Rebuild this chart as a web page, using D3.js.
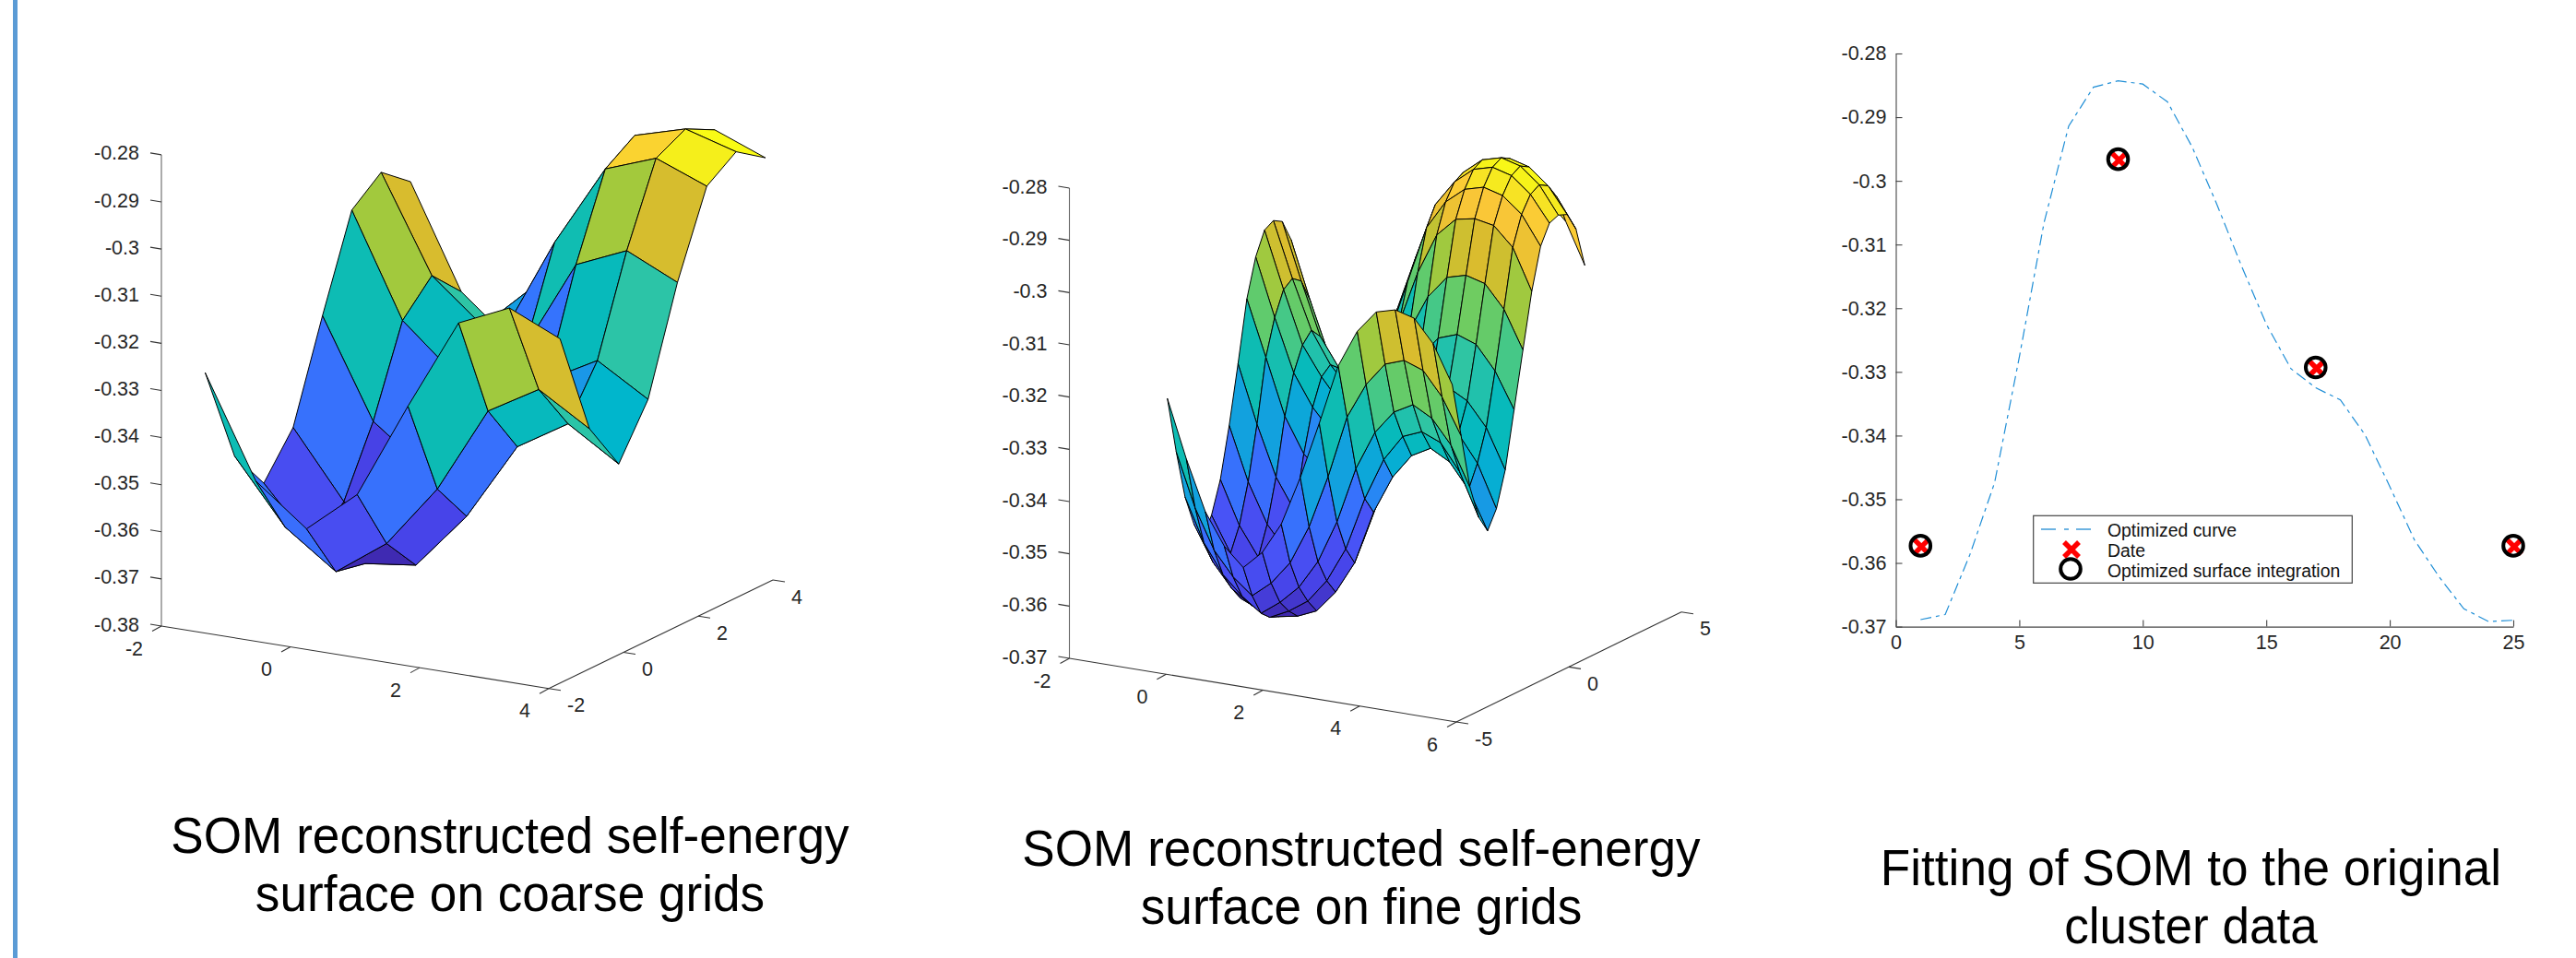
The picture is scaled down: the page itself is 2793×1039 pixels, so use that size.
<!DOCTYPE html>
<html>
<head>
<meta charset="utf-8">
<style>
    html, body { margin: 0; padding: 0; background: #fff; }
    text { font-family: "Liberation Sans", Arial, sans-serif; }
    .tick-label { font-size: 21.5px; fill: #262626; }
    .caption { font-size: 55px; fill: #000; text-anchor: middle; }
    .legend-label { font-size: 19.4px; fill: #111; }
</style>
<script src="https://d3js.org/d3.v7.min.js"></script>
</head>
<body>
<svg id="fig" width="2793" height="1039"></svg>
<script>
// coarse surface, 8x8 nodes (rows = x, columns = y)
const coarseK = [-1.571, -0.785, 0, 0.785, 1.571, 2.356, 3.142, 3.927];
const coarseZ = [
    [-0.3269, -0.3476, -0.3564, -0.3476, -0.3269, -0.3075, -0.3025, -0.3075],
    [-0.3482, -0.3610, -0.3683, -0.3616, -0.3476, -0.3292, -0.3227, -0.3291],
    [-0.3566, -0.3687, -0.3700, -0.3682, -0.3557, -0.3386, -0.3316, -0.3380],
    [-0.3476, -0.3610, -0.3686, -0.3610, -0.3467, -0.3281, -0.3216, -0.3277],
    [-0.3271, -0.3477, -0.3565, -0.3472, -0.3265, -0.3074, -0.3026, -0.3078],
    [-0.3077, -0.3294, -0.3400, -0.3289, -0.3074, -0.2901, -0.2860, -0.2901],
    [-0.3028, -0.3231, -0.3334, -0.3230, -0.3027, -0.2861, -0.2829, -0.2861],
    [-0.3076, -0.3297, -0.3402, -0.3295, -0.3077, -0.2903, -0.2860, -0.2903]
];

// fine surface, 16x16 nodes
const fineK = [-1.571, -1.178, -0.785, -0.393, 0, 0.393, 0.785, 1.178, 1.571, 1.963, 2.356, 2.749, 3.142, 3.534, 3.927, 4.320];
const fineZ = [
    [-0.3268, -0.3378, -0.3473, -0.3533, -0.3568, -0.3533, -0.3473, -0.3378, -0.3268, -0.3152, -0.3080, -0.3037, -0.3027, -0.3037, -0.3080, -0.3152],
    [-0.3378, -0.3480, -0.3555, -0.3600, -0.3630, -0.3600, -0.3555, -0.3480, -0.3378, -0.3258, -0.3190, -0.3145, -0.3132, -0.3145, -0.3190, -0.3258],
    [-0.3473, -0.3555, -0.3610, -0.3645, -0.3672, -0.3645, -0.3610, -0.3555, -0.3473, -0.3365, -0.3290, -0.3245, -0.3225, -0.3245, -0.3290, -0.3365],
    [-0.3533, -0.3600, -0.3645, -0.3670, -0.3688, -0.3670, -0.3645, -0.3600, -0.3533, -0.3431, -0.3350, -0.3300, -0.3285, -0.3300, -0.3350, -0.3431],
    [-0.3568, -0.3630, -0.3672, -0.3688, -0.3695, -0.3688, -0.3672, -0.3630, -0.3568, -0.3465, -0.3392, -0.3345, -0.3325, -0.3345, -0.3392, -0.3465],
    [-0.3533, -0.3600, -0.3645, -0.3670, -0.3688, -0.3670, -0.3645, -0.3600, -0.3533, -0.3431, -0.3350, -0.3300, -0.3285, -0.3300, -0.3350, -0.3431],
    [-0.3473, -0.3555, -0.3610, -0.3645, -0.3672, -0.3645, -0.3610, -0.3555, -0.3473, -0.3365, -0.3290, -0.3245, -0.3225, -0.3245, -0.3290, -0.3365],
    [-0.3378, -0.3480, -0.3555, -0.3600, -0.3630, -0.3600, -0.3555, -0.3480, -0.3378, -0.3258, -0.3190, -0.3145, -0.3132, -0.3145, -0.3190, -0.3258],
    [-0.3268, -0.3378, -0.3473, -0.3533, -0.3568, -0.3533, -0.3473, -0.3378, -0.3268, -0.3152, -0.3080, -0.3037, -0.3027, -0.3037, -0.3080, -0.3152],
    [-0.3152, -0.3258, -0.3365, -0.3431, -0.3465, -0.3431, -0.3365, -0.3258, -0.3152, -0.3048, -0.2970, -0.2934, -0.2927, -0.2934, -0.2970, -0.3048],
    [-0.3080, -0.3190, -0.3290, -0.3350, -0.3392, -0.3350, -0.3290, -0.3190, -0.3080, -0.2970, -0.2915, -0.2885, -0.2875, -0.2885, -0.2915, -0.2970],
    [-0.3037, -0.3145, -0.3245, -0.3300, -0.3345, -0.3300, -0.3245, -0.3145, -0.3037, -0.2934, -0.2885, -0.2855, -0.2845, -0.2855, -0.2885, -0.2934],
    [-0.3027, -0.3132, -0.3225, -0.3285, -0.3325, -0.3285, -0.3225, -0.3132, -0.3027, -0.2927, -0.2875, -0.2845, -0.2835, -0.2845, -0.2875, -0.2927],
    [-0.3037, -0.3145, -0.3245, -0.3300, -0.3345, -0.3300, -0.3245, -0.3145, -0.3037, -0.2934, -0.2885, -0.2855, -0.2845, -0.2855, -0.2885, -0.2934],
    [-0.3080, -0.3190, -0.3290, -0.3350, -0.3392, -0.3350, -0.3290, -0.3190, -0.3080, -0.2970, -0.2915, -0.2885, -0.2875, -0.2885, -0.2915, -0.2970],
    [-0.3152, -0.3258, -0.3365, -0.3431, -0.3465, -0.3431, -0.3365, -0.3258, -0.3152, -0.3048, -0.2970, -0.2934, -0.2927, -0.2934, -0.2970, -0.3048]
];

// right panel
const curveX = d3.range(1, 26);
const curveY = [-0.3689, -0.3681, -0.3587, -0.3474, -0.3277, -0.3066, -0.2914, -0.2853, -0.2843, -0.2848, -0.2876, -0.2947, -0.3037, -0.3134, -0.3225, -0.3295, -0.3325, -0.3344, -0.3399, -0.3480, -0.3564, -0.3622, -0.3672, -0.3692, -0.3690];
const sampleX = [1, 9, 17, 25];
const sampleY = [-0.3573, -0.2966, -0.3293, -0.3573];
const legendLabels = ["Optimized curve", "Date", "Optimized surface integration"];

const zTicksCoarse = [-0.28, -0.29, -0.3, -0.31, -0.32, -0.33, -0.34, -0.35, -0.36, -0.37, -0.38];
const zTicksFine = [-0.28, -0.29, -0.3, -0.31, -0.32, -0.33, -0.34, -0.35, -0.36, -0.37];
const xTicksCoarse = [-2, 0, 2, 4];
const yTicksCoarse = [-2, 0, 2, 4];
const xTicksFine = [-2, 0, 2, 4, 6];
const yTicksFine = [-5, 0, 5];
const fitXTicks = [0, 5, 10, 15, 20, 25];
const fitYTicks = [-0.28, -0.29, -0.3, -0.31, -0.32, -0.33, -0.34, -0.35, -0.36, -0.37];

const captions = [
    {cx: 553, y: 925, lines: ["SOM reconstructed self-energy", "surface on coarse grids"]},
    {cx: 1476, y: 939, lines: ["SOM reconstructed self-energy", "surface on fine grids"]},
    {cx: 2375.5, y: 960, lines: ["Fitting of SOM to the original", "cluster data"]}
];

const parula = d3.scaleLinear()
    .domain([0, 0.1, 0.2, 0.28, 0.42, 0.49, 0.54, 0.6, 0.66, 0.73, 0.78, 0.9, 0.96, 1])
    .range(["#3e26a8", "#4743e8", "#4855f8", "#307cfe", "#00b6cc", "#0abbb5", "#2cc4a7", "#4cc97e", "#72cc5e", "#acc836", "#ddbb2d", "#fcc838", "#f5ee1c", "#f9fb15"]);

const svg = d3.select("#fig");

svg.append("rect").attr("x", 14).attr("y", 0).attr("width", 5).attr("height", 1039).attr("fill", "#5b9bd5");

function surfacePanel(opt) {
    const g = svg.append("g");
    const {L, B, R, zTop, xDomain, yDomain, zDomain} = opt;
    // floor position = sum of the two horizontal scales, height from z scale
    const xToX = d3.scaleLinear().domain(xDomain).range([0, B[0] - L[0]]);
    const xToY = d3.scaleLinear().domain(xDomain).range([0, B[1] - L[1]]);
    const yToX = d3.scaleLinear().domain(yDomain).range([0, R[0] - B[0]]);
    const yToY = d3.scaleLinear().domain(yDomain).range([0, R[1] - B[1]]);
    const zToY = d3.scaleLinear().domain(zDomain).range([0, zTop - L[1]]);
    const project = (x, y, z) => [
        L[0] + xToX(x) + yToX(y),
        L[1] + xToY(x) + yToY(y) + zToY(z)
    ];

    // axes
    const axisLine = (a, b, col) => g.append("line")
        .attr("x1", a[0]).attr("y1", a[1]).attr("x2", b[0]).attr("y2", b[1])
        .attr("stroke", col).attr("stroke-width", 1.1);
    axisLine(L, [L[0], zTop], "#666");
    axisLine(L, B, "#333");
    axisLine(B, R, "#333");

    opt.zTicks.forEach(t => {
        const p = project(xDomain[0], yDomain[0], t);
        axisLine(p, [p[0] - 12, p[1] - 2], "#333");
        g.append("text").attr("class", "tick-label").attr("text-anchor", "end")
            .attr("x", p[0] - 24).attr("y", p[1] - 2).attr("dy", "0.35em").text(String(t));
    });
    opt.xTicks.forEach(t => {
        const p = project(t, yDomain[0], zDomain[0]);
        axisLine(p, [p[0] - 10, p[1] + 5.5], "#333");
        g.append("text").attr("class", "tick-label").attr("text-anchor", "end")
            .attr("x", p[0] - 20).attr("y", p[1] + 24).attr("dy", "0.35em").text(String(t));
    });
    opt.yTicks.forEach(t => {
        const p = project(xDomain[1], t, zDomain[0]);
        axisLine(p, [p[0] + 13, p[1] + 2], "#333");
        g.append("text").attr("class", "tick-label").attr("text-anchor", "start")
            .attr("x", p[0] + 20).attr("y", p[1] + 18).attr("dy", "0.35em").text(String(t));
    });

    // faces, far ones first. colour comes from the first corner of the face
    const {k, z} = opt;
    const zMin = d3.min(z, r => d3.min(r));
    const zMax = d3.max(z, r => d3.max(r));
    const color = d3.scaleLinear().domain([zMin, zMax]).range([0, 1]);
    const faces = [];
    for (let i = 0; i < k.length - 1; i++) {
        for (let j = k.length - 2; j >= 0; j--) {
            faces.push({
                pts: [
                    project(k[i], k[j], z[i][j]),
                    project(k[i + 1], k[j], z[i + 1][j]),
                    project(k[i + 1], k[j + 1], z[i + 1][j + 1]),
                    project(k[i], k[j + 1], z[i][j + 1])
                ],
                c: parula(color(z[i][j]))
            });
        }
    }
    const line = d3.line().curve(d3.curveLinearClosed);
    g.selectAll("path.face").data(faces).join("path")
        .attr("class", "face")
        .attr("d", d => line(d.pts))
        .attr("fill", d => d.c)
        .attr("stroke", "#000")
        .attr("stroke-width", 1)
        .attr("stroke-linejoin", "round");
}

surfacePanel({
    L: [175, 679], B: [595, 746.7], R: [838, 629], zTop: 167.9,
    xDomain: [-2, 4], yDomain: [-2, 4], zDomain: [-0.38, -0.28],
    zTicks: zTicksCoarse, xTicks: xTicksCoarse, yTicks: yTicksCoarse,
    k: coarseK, z: coarseZ
});

surfacePanel({
    L: [1159.5, 714], B: [1579, 783], R: [1823, 663.7], zTop: 204,
    xDomain: [-2, 6], yDomain: [-5, 5], zDomain: [-0.37, -0.28],
    zTicks: zTicksFine, xTicks: xTicksFine, yTicks: yTicksFine,
    k: fineK, z: fineZ
});

// right panel, plain 2d
const fx = d3.scaleLinear().domain([0, 25]).range([2055.5, 2725]);
const fy = d3.scaleLinear().domain([-0.37, -0.28]).range([679.6, 58]);
const fit = svg.append("g");

const xAxis = d3.axisBottom(fx).tickValues(fitXTicks).tickFormat(String).tickSizeInner(-7).tickSizeOuter(0).tickPadding(9);
const yAxis = d3.axisLeft(fy).tickValues(fitYTicks).tickFormat(String).tickSizeInner(-7).tickSizeOuter(0).tickPadding(10);
const gx = fit.append("g").attr("transform", "translate(0,679.6)").call(xAxis);
const gy = fit.append("g").attr("transform", "translate(2055.5,0)").call(yAxis);
[gx, gy].forEach(a => {
    a.selectAll("path,line").attr("stroke", "#444").attr("stroke-width", 1.1);
    a.selectAll("text").attr("class", "tick-label").attr("font-size", null).attr("font-family", null);
});

const dashed = "12 5 4 5";
const curve = d3.line().x((d, i) => fx(curveX[i])).y(d => fy(d));
fit.append("path").attr("d", curve(curveY)).attr("fill", "none")
    .attr("stroke", "#1f8ed6").attr("stroke-width", 1.2).attr("stroke-dasharray", dashed);

function crossMark(sel, cx, cy) {
    const s = 8;
    sel.append("path")
        .attr("d", `M${cx - s},${cy - s}L${cx + s},${cy + s}M${cx - s},${cy + s}L${cx + s},${cy - s}`)
        .attr("stroke", "#ff0000").attr("stroke-width", 5.5).attr("fill", "none");
}
function ringMark(sel, cx, cy) {
    sel.append("circle").attr("cx", cx).attr("cy", cy).attr("r", 10.8)
        .attr("fill", "none").attr("stroke", "#000").attr("stroke-width", 4);
}
sampleX.forEach((x, i) => crossMark(fit, fx(x) + 1, fy(sampleY[i]) + 1));
sampleX.forEach((x, i) => ringMark(fit, fx(x), fy(sampleY[i])));

// legend
const leg = fit.append("g");
leg.append("rect").attr("x", 2204.7).attr("y", 559.3).attr("width", 345.6).attr("height", 73)
    .attr("fill", "#fff").attr("stroke", "#444").attr("stroke-width", 1.2);
leg.append("line").attr("x1", 2213).attr("x2", 2276).attr("y1", 574).attr("y2", 574)
    .attr("stroke", "#6db3e2").attr("stroke-width", 1.8).attr("stroke-dasharray", "16 9 5 8");
crossMark(leg, 2246, 596);
ringMark(leg, 2245, 617);
legendLabels.forEach((t, i) => {
    leg.append("text").attr("class", "legend-label").attr("x", 2285).attr("y", 575 + i * 22.2)
        .attr("dy", "0.35em").text(t);
});

// captions, the original type is a little narrower than the font
captions.forEach(c => {
    c.lines.forEach((t, i) => {
        const label = svg.append("text").attr("class", "caption").attr("x", c.cx).attr("y", c.y + i * 63).text(t);
        label.attr("textLength", label.node().getComputedTextLength() * 0.966)
            .attr("lengthAdjust", "spacingAndGlyphs");
    });
});
</script>
</body>
</html>
